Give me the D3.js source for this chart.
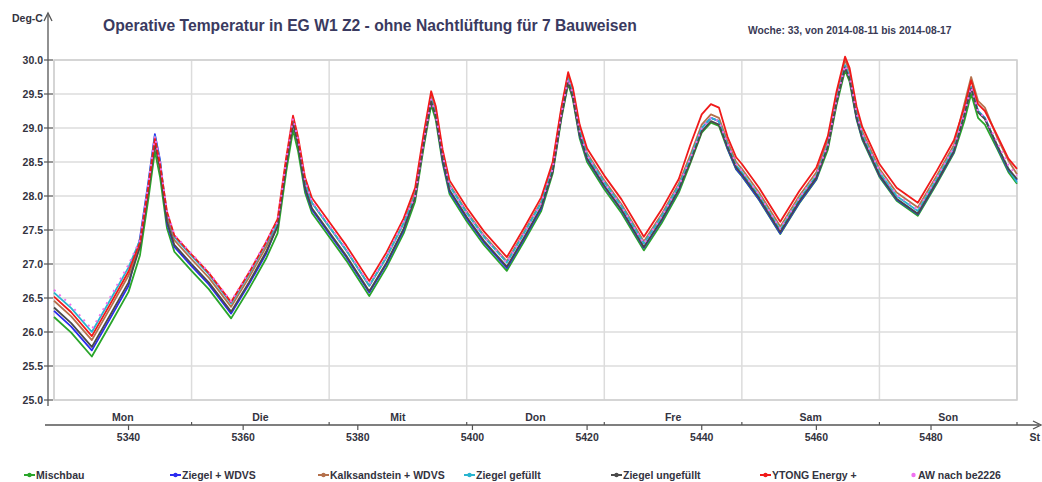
<!DOCTYPE html>
<html><head><meta charset="utf-8">
<script src="https://cdn.jsdelivr.net/npm/d3@7"></script>
<style>
html,body{margin:0;padding:0;background:#fff;}
svg{display:block;font-family:"Liberation Sans",Arial,sans-serif;}
</style></head>
<body><svg id="chart" width="1042" height="482"></svg>
<script>
// ---------- data ----------
const titleText = "Operative Temperatur in EG W1 Z2 - ohne Nachtlüftung für 7 Bauweisen";
const subtitleText = "Woche: 33, von 2014-08-11 bis 2014-08-17";
const yUnit = "Deg-C";
const xUnit = "St";
const dayLabels = ["Mon","Die","Mit","Don","Fre","Sam","Son"];
const dayStarts = [5327,5351,5375,5399,5423,5447,5471,5495];
const xTicks = [5340,5360,5380,5400,5420,5440,5460,5480];
const yTicks = [25.0,25.5,26.0,26.5,27.0,27.5,28.0,28.5,29.0,29.5,30.0];
const hours = [
 5327,5330,5333.6,5337,5340,5342,5343.5,5344.6,5345.5,5346.7,5348,
 5351,5354,5357.9,5361,5364,5366,5367.5,5368.7,5369.6,5370.8,5372,
 5375,5378,5382,5385,5388,5390,5391.5,5392.8,5393.6,5394.8,5396,
 5399,5402,5406,5409,5412,5414,5415.5,5416.7,5417.5,5418.7,5420,
 5423,5426,5429.9,5433,5436,5438,5440,5441.6,5443,5444.5,5446,
 5447,5450,5453.7,5457,5460,5462,5463.5,5465,5465.8,5467,5468,
 5471,5474,5477.7,5481,5484,5485.8,5487,5488.2,5489.4,5491.5,5493.5,5495
];
const seriesNames = ["Mischbau","Ziegel + WDVS","Kalksandstein + WDVS","Ziegel gefüllt","Ziegel ungefüllt","YTONG Energy +","AW nach be2226"];
const seriesColors = ["#2aa52a","#2b2bf0","#b5714c","#28b4cf","#4a4a4a","#f01a1a","#f070f0"];
const mischbau = [
 26.22,25.99,25.64,26.14,26.59,27.13,27.98,28.66,28.28,27.53,27.18,
 26.90,26.63,26.20,26.63,27.08,27.45,28.35,28.97,28.65,28.05,27.75,
 27.40,27.05,26.53,26.95,27.45,27.92,28.72,29.34,29.12,28.48,28.03,
 27.63,27.28,26.90,27.33,27.78,28.33,29.13,29.65,29.43,28.85,28.50,
 28.10,27.75,27.20,27.60,28.05,28.48,28.93,29.08,29.03,28.69,28.39,
 28.29,27.94,27.44,27.89,28.24,28.68,29.33,29.85,29.68,29.13,28.83,
 28.28,27.93,27.71,28.18,28.63,29.10,29.50,29.15,29.05,28.70,28.35,28.18
];
const ziegelWdvs = [
 26.31,26.08,25.73,26.23,26.68,27.38,28.23,28.91,28.53,27.60,27.25,
 26.97,26.70,26.27,26.70,27.15,27.58,28.48,29.10,28.78,28.10,27.80,
 27.45,27.10,26.58,27.00,27.50,28.00,28.80,29.42,29.20,28.52,28.07,
 27.67,27.32,26.94,27.37,27.82,28.38,29.18,29.70,29.48,28.89,28.54,
 28.14,27.79,27.24,27.64,28.09,28.55,29.00,29.15,29.10,28.70,28.40,
 28.30,27.95,27.45,27.90,28.25,28.75,29.40,29.92,29.75,29.15,28.85,
 28.30,27.95,27.73,28.20,28.65,29.20,29.60,29.25,29.15,28.73,28.38,28.23
];
const kalksandsteinWdvs = [
 26.46,26.23,25.88,26.38,26.83,27.27,28.12,28.80,28.42,27.70,27.35,
 27.07,26.80,26.37,26.80,27.25,27.60,28.50,29.12,28.80,28.20,27.90,
 27.55,27.20,26.68,27.10,27.60,28.05,28.85,29.47,29.25,28.62,28.17,
 27.77,27.42,27.04,27.47,27.92,28.46,29.26,29.78,29.56,28.98,28.63,
 28.23,27.88,27.33,27.73,28.18,28.60,29.05,29.20,29.15,28.80,28.50,
 28.40,28.05,27.55,28.00,28.35,28.83,29.48,30.00,29.83,29.25,28.95,
 28.40,28.05,27.83,28.30,28.75,29.35,29.75,29.40,29.30,28.87,28.52,28.32
];
const ziegelGefuellt = [
 26.58,26.35,26.00,26.50,26.95,27.35,28.20,28.88,28.50,27.75,27.40,
 27.12,26.85,26.42,26.85,27.30,27.60,28.50,29.12,28.80,28.20,27.90,
 27.55,27.20,26.68,27.10,27.60,28.00,28.80,29.42,29.20,28.60,28.15,
 27.75,27.40,27.02,27.45,27.90,28.40,29.20,29.72,29.50,28.95,28.60,
 28.20,27.85,27.30,27.70,28.15,28.55,29.00,29.15,29.10,28.75,28.45,
 28.35,28.00,27.50,27.95,28.30,28.75,29.40,29.92,29.75,29.20,28.90,
 28.35,28.00,27.78,28.25,28.70,29.20,29.60,29.25,29.15,28.75,28.40,28.20
];
const ziegelUngefuellt = [
 26.36,26.13,25.78,26.28,26.73,27.25,28.10,28.78,28.40,27.63,27.28,
 27.00,26.73,26.30,26.73,27.18,27.55,28.45,29.07,28.75,28.12,27.82,
 27.47,27.12,26.60,27.02,27.52,27.97,28.77,29.39,29.17,28.54,28.09,
 27.69,27.34,26.96,27.39,27.84,28.36,29.16,29.68,29.46,28.90,28.55,
 28.15,27.80,27.25,27.65,28.10,28.50,28.95,29.10,29.05,28.72,28.42,
 28.32,27.97,27.47,27.92,28.27,28.72,29.37,29.89,29.72,29.16,28.86,
 28.31,27.96,27.74,28.21,28.66,29.18,29.58,29.23,29.13,28.75,28.40,28.25
];
const ytongEnergy = [
 26.52,26.29,25.94,26.44,26.89,27.32,28.17,28.85,28.47,27.77,27.42,
 27.14,26.87,26.44,26.87,27.32,27.66,28.56,29.18,28.86,28.27,27.97,
 27.62,27.27,26.75,27.17,27.67,28.12,28.92,29.54,29.32,28.68,28.23,
 27.83,27.48,27.10,27.53,27.98,28.50,29.30,29.82,29.60,29.05,28.70,
 28.30,27.95,27.40,27.80,28.25,28.75,29.20,29.35,29.30,28.87,28.57,
 28.47,28.12,27.62,28.07,28.42,28.88,29.53,30.05,29.88,29.32,29.02,
 28.47,28.12,27.90,28.37,28.82,29.30,29.70,29.35,29.25,28.90,28.55,28.40
];
const awBe2226 = [
 26.62,26.39,26.04,26.54,26.99,27.35,28.20,28.88,28.50,27.78,27.43,
 27.15,26.88,26.45,26.88,27.33,27.62,28.52,29.14,28.82,28.22,27.92,
 27.57,27.22,26.70,27.12,27.62,28.00,28.80,29.42,29.20,28.60,28.15,
 27.75,27.40,27.02,27.45,27.90,28.40,29.20,29.72,29.50,28.95,28.60,
 28.20,27.85,27.30,27.70,28.15,28.55,29.00,29.15,29.10,28.77,28.47,
 28.37,28.02,27.52,27.97,28.32,28.75,29.40,29.92,29.75,29.22,28.92,
 28.37,28.02,27.80,28.27,28.72,29.20,29.60,29.25,29.15,28.80,28.45,28.30
];
const seriesValues = [mischbau, ziegelWdvs, kalksandsteinWdvs, ziegelGefuellt, ziegelUngefuellt, ytongEnergy, awBe2226];
const legendX = [24,170,318,464,611,760,908];

// ---------- chart ----------
const svg = d3.select("#chart");
const x = d3.scaleLinear().domain([5327,5495]).range([54,1017]);
const y = d3.scaleLinear().domain([25,30]).range([400,60]);
const txt = "#333340";

// grid
const g = svg.append("g");
g.selectAll("line.h").data(yTicks).join("line")
  .attr("x1",x(5327)).attr("x2",x(5495)).attr("y1",d=>y(d)).attr("y2",d=>y(d))
  .attr("stroke","#dcdcdc").attr("stroke-width",1.5);
g.selectAll("line.v").data(dayStarts).join("line")
  .attr("x1",d=>x(d)).attr("x2",d=>x(d)).attr("y1",y(30)).attr("y2",y(25))
  .attr("stroke","#dcdcdc").attr("stroke-width",1.5);
g.append("rect").attr("x",x(5327)).attr("y",y(30)).attr("width",x(5495)-x(5327)).attr("height",y(25)-y(30))
  .attr("fill","none").attr("stroke","#cfcfcf").attr("stroke-width",1.5);

// series
const line = d3.line().x((d,i)=>x(hours[i])).y(d=>y(d));
seriesValues.forEach((vals,k)=>{
  svg.append("path").datum(vals).attr("d",line)
    .attr("fill","none").attr("stroke",seriesColors[k])
    .attr("stroke-width",k===6?2:1.8)
    .attr("stroke-dasharray",k===6?"2,5":null)
    .attr("stroke-linejoin","round");
});

// y axis
const ya = svg.append("g");
ya.append("line").attr("x1",48).attr("x2",48).attr("y1",406).attr("y2",15).attr("stroke","#555").attr("stroke-width",1.3);
ya.append("path").attr("d","M44,21 L48,13 L52,21").attr("fill","none").attr("stroke","#555").attr("stroke-width",1.3);
ya.selectAll("line.t").data(yTicks).join("line")
  .attr("x1",44).attr("x2",53).attr("y1",d=>y(d)).attr("y2",d=>y(d)).attr("stroke","#555").attr("stroke-width",1.2);
ya.selectAll("text").data(yTicks).join("text")
  .attr("x",43).attr("y",d=>y(d)+4).attr("text-anchor","end")
  .attr("font-size",10.5).attr("font-weight","bold").attr("fill",txt)
  .text(d=>d3.format(".1f")(d));
svg.append("text").attr("x",12).attr("y",22).attr("font-size",10.5).attr("font-weight","bold").attr("fill",txt).text(yUnit);

// x axis
const xa = svg.append("g");
xa.append("line").attr("x1",45).attr("x2",1039).attr("y1",425).attr("y2",425).attr("stroke","#555").attr("stroke-width",1.3);
xa.append("path").attr("d","M1033,421 L1041,425 L1033,429").attr("fill","none").attr("stroke","#555").attr("stroke-width",1.3);
xa.selectAll("line.maj").data(xTicks).join("line")
  .attr("x1",d=>x(d)).attr("x2",d=>x(d)).attr("y1",425).attr("y2",430).attr("stroke","#555").attr("stroke-width",1.2);
xa.selectAll("line.min").data(dayStarts.slice(1)).join("line")
  .attr("x1",d=>x(d)).attr("x2",d=>x(d)).attr("y1",422).attr("y2",425).attr("stroke","#555").attr("stroke-width",1.2);
xa.selectAll("text.num").data(xTicks).join("text")
  .attr("x",d=>x(d)).attr("y",441).attr("text-anchor","middle")
  .attr("font-size",10.5).attr("font-weight","bold").attr("fill",txt).text(d=>d);
xa.selectAll("text.day").data(dayLabels).join("text")
  .attr("x",(d,i)=>x(dayStarts[i]+12)).attr("y",421).attr("text-anchor","middle")
  .attr("font-size",10.5).attr("font-weight","bold").attr("fill",txt).text(d=>d);
svg.append("text").attr("x",1040).attr("y",441).attr("text-anchor","end").attr("font-size",10.5).attr("font-weight","bold").attr("fill",txt).text(xUnit);

// title
const t = svg.append("text").attr("x",103).attr("y",31).attr("font-size",15).attr("font-weight","bold").attr("fill","#3a3a60").text(titleText);
const tw = t.node().getComputedTextLength();
t.attr("font-size",15*534/tw);
svg.append("text").attr("x",748).attr("y",34).attr("font-size",10.3).attr("font-weight","bold").attr("fill","#3a3a55").text(subtitleText);

// legend
const lg = svg.append("g");
seriesNames.forEach((n,k)=>{
  const lx = legendX[k];
  lg.append("line").attr("x1",lx).attr("x2",lx+11).attr("y1",475).attr("y2",475)
    .attr("stroke",seriesColors[k]).attr("stroke-width",k===6?0:2);
  lg.append("circle").attr("cx",lx+5.5).attr("cy",475).attr("r",2.2).attr("fill",seriesColors[k]);
  lg.append("text").attr("x",lx+(k===6?10:12)).attr("y",479).attr("font-size",10.5).attr("font-weight","bold").attr("fill",txt).text(n);
});
</script></body></html>
